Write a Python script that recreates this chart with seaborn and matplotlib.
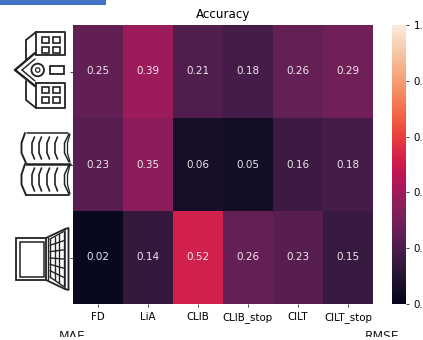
import numpy as np
import matplotlib
matplotlib.use('Agg')
import matplotlib.pyplot as plt
import seaborn as sns
from matplotlib.patches import Rectangle, Circle

# valores de la tabla
methods = ['FD', 'LiA', 'CLIB', 'CLIB_stop', 'CILT', 'CILT_stop']
row_school = [0.25, 0.39, 0.21, 0.18, 0.26, 0.29]
row_books = [0.23, 0.35, 0.06, 0.05, 0.16, 0.18]
row_laptop = [0.02, 0.14, 0.52, 0.26, 0.23, 0.15]
cbar_ticks = [0.0, 0.2, 0.4, 0.6, 0.8, 1.0]

W, H = 423, 340
fig = plt.figure(figsize=(W / 100, H / 100), dpi=100)


def px_axes(x0, y0, x1, y1):
    return fig.add_axes([x0 / W, 1 - y1 / H, (x1 - x0) / W, (y1 - y0) / H])


# capa para iconos, en pixeles
over = fig.add_axes([0, 0, 1, 1])
over.set_xlim(0, W)
over.set_ylim(H, 0)
over.axis('off')

ax = px_axes(72.5, 25, 373, 304)
cax = px_axes(392, 25, 405.5, 304)
data = np.array([row_school, row_books, row_laptop])
sns.heatmap(data, ax=ax, cbar_ax=cax, vmin=0, vmax=1, annot=True, fmt='.2f',
            xticklabels=methods, yticklabels=False,
            annot_kws={'fontsize': 7.5, 'alpha': 0.9})
ax.set_yticks([0.5, 1.5, 2.5])
ax.tick_params(axis='both', labelsize=7.4, length=2.5, width=0.7, color='#444444')
ax.tick_params(axis='x', rotation=0)
ax.set_title('Accuracy', fontsize=8.6, pad=4.8)
cax.set_yticks(cbar_ticks)
cax.set_yticklabels([f'{t:.1f}' for t in cbar_ticks])
cax.tick_params(labelsize=7.4, length=2.5, width=0.7, color='#444444')


def line(xs, ys, lw=1.3):
    over.plot(xs, ys, color='#222222', lw=lw, solid_capstyle='round')


def box(x, y, w, h, lw=1.2):
    over.add_patch(Rectangle((x, y), w, h, fill=False, ec='#222222', lw=lw))


# icono escuela
line([36, 65, 65, 36], [32, 32, 55, 55])
line([36, 36], [32, 55])
line([26, 36], [40, 32])
line([26, 26], [40, 59])
line([15, 35], [70, 53], 1.7)
line([15, 35], [70, 86], 1.7)
line([22, 35], [70, 59], 1.0)
line([22, 35], [70, 81], 1.0)
line([26, 26, 36, 65, 65, 36], [81, 100, 108, 108, 83, 83])
line([36, 36], [83, 108])
for bx in (42, 53):
    for by in (37, 47, 87, 97):
        box(bx, by, 7, 6)
over.add_patch(Circle((37.7, 70), 6.3, fill=False, ec='#222222', lw=1.3))
over.add_patch(Circle((37.7, 70), 2.2, fill=False, ec='#222222', lw=0.9))
box(50, 66, 14, 8, 1.3)

# icono libros
for top, bottom in ((133, 163), (164, 195)):
    mid = (top + bottom) / 2
    line([25, 21.5, 21.5, 26], [top, mid - 5, mid + 5, bottom], 1.4)
    for x0 in (32, 39, 47, 55):
        line([x0 + 2.5, x0, x0, x0 + 2.5], [top + 4, mid - 5, mid + 5, bottom - 4], 1.2)
    line([69, 64.5, 64.5, 69], [top + 1, mid - 5, mid + 5, bottom - 1], 1.1)
    line([70, 67.5, 67.5, 70], [top + 1, mid - 5, mid + 5, bottom - 1], 0.9)
line([27, 68], [133, 133], 1.1)
line([26, 70], [163.5, 163.5], 1.8)
line([26, 69], [195, 195], 1.3)

# icono portatil
box(16, 238, 30, 42, 1.3)
box(20, 242, 24, 35, 1.1)
line([46, 65, 68.5, 68.5, 65, 46], [238, 229, 228, 290, 289, 280], 1.3)
line([65, 65], [229, 289], 1.1)
line([48, 48], [238, 280], 1.0)
col_x = np.array([50, 54.5, 59, 63.5])
for x0 in col_x:
    line([x0, x0], [239 - (x0 - 50) * 0.55, 277 + (x0 - 50) * 0.7], 1.0)
for k in range(7):
    t = k / 6
    y_l = 239 + 38 * t
    y_r = 231.6 + 54.8 * t
    line([50, 63.5], [y_l, y_r], 1.0)

# restos de la figura original
over.add_patch(Rectangle((0, 0), 106, 5, color='#4472c4', lw=0))
over.text(72, 330, 'MAE', fontsize=8.8, ha='center', va='top', color='#222222')
over.text(382.5, 330, 'RMSE', fontsize=8.8, ha='center', va='top', color='#222222')
over.add_patch(Rectangle((0, 337), W, 3, color='white', lw=0, zorder=5))

fig.savefig('out.png', dpi=100)
